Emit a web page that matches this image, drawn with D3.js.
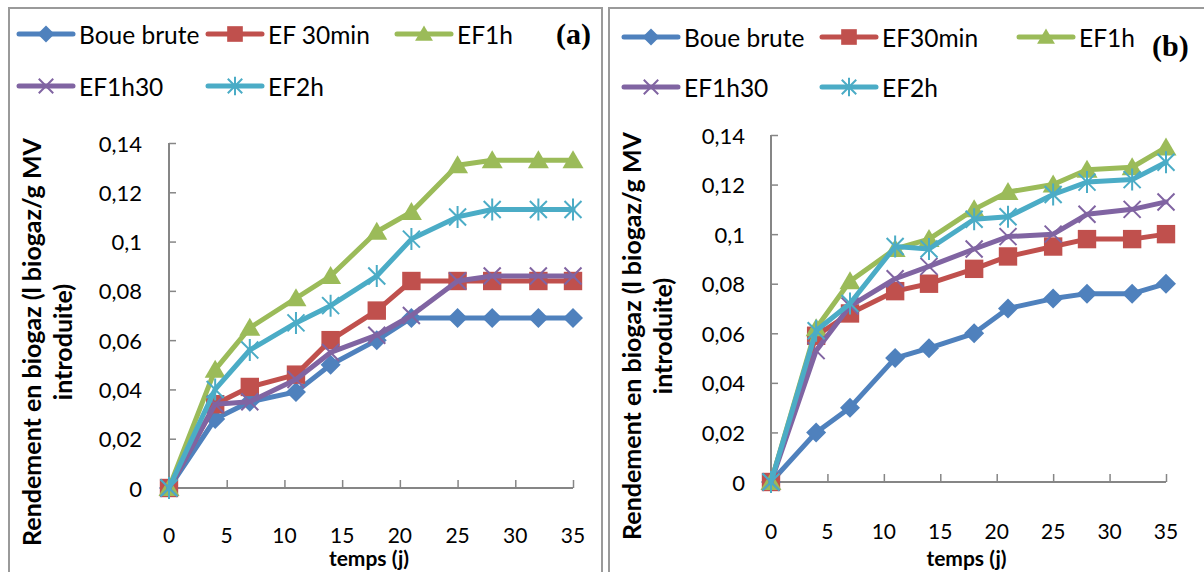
<!DOCTYPE html>
<html>
<head>
<meta charset="utf-8">
<script src="https://cdn.jsdelivr.net/npm/d3@7"></script>
<style>
  html, body { margin: 0; padding: 0; background: #fff; }
  svg { display: block; }
  text { font-family: Lato, "Open Sans", sans-serif; fill: #000; }
</style>
</head>
<body>
<svg id="chart" width="1204" height="572"></svg>
<script>
// Sampling days (j)
const days = [0, 4, 7, 11, 14, 18, 21, 25, 28, 32, 35];

// Panel (a) — biogas yield, l biogaz / g MV introduite
const aBoueBrute = [0, 0.028, 0.035, 0.039, 0.050, 0.060, 0.069, 0.069, 0.069, 0.069, 0.069];
const aEF30min   = [0, 0.034, 0.041, 0.046, 0.060, 0.072, 0.084, 0.084, 0.084, 0.084, 0.084];
const aEF1h      = [0, 0.048, 0.065, 0.077, 0.086, 0.104, 0.112, 0.131, 0.133, 0.133, 0.133];
const aEF1h30    = [0, 0.034, 0.035, 0.044, 0.055, 0.062, 0.070, 0.084, 0.086, 0.086, 0.086];
const aEF2h      = [0, 0.040, 0.056, 0.067, 0.074, 0.086, 0.101, 0.110, 0.113, 0.113, 0.113];

// Panel (b)
const bBoueBrute = [0, 0.020, 0.030, 0.050, 0.054, 0.060, 0.070, 0.074, 0.076, 0.076, 0.080];
const bEF30min   = [0, 0.059, 0.068, 0.077, 0.080, 0.086, 0.091, 0.095, 0.098, 0.098, 0.100];
const bEF1h      = [0, 0.062, 0.081, 0.094, 0.098, 0.110, 0.117, 0.120, 0.126, 0.127, 0.135];
const bEF1h30    = [0, 0.053, 0.071, 0.082, 0.087, 0.094, 0.099, 0.100, 0.108, 0.110, 0.113];
const bEF2h      = [0, 0.061, 0.072, 0.095, 0.094, 0.106, 0.107, 0.116, 0.121, 0.122, 0.129];

const namesA = ["Boue brute", "EF 30min", "EF1h", "EF1h30", "EF2h"];
const namesB = ["Boue brute", "EF30min", "EF1h", "EF1h30", "EF2h"];

const xTicks = [0, 5, 10, 15, 20, 25, 30, 35];
const yTicks = [0, 0.02, 0.04, 0.06, 0.08, 0.1, 0.12, 0.14];

const xTitle = "temps (j)";
const yTitleLines = ["Rendement en biogaz (l biogaz/g MV", "introduite)"];

// Series styling (Office 2007 palette)
const colors  = ["#4F81BD", "#C0504D", "#9BBB59", "#8064A2", "#4BACC6"];
const markers = ["diamond", "square", "triangle", "cross", "star"];

const frLocale = d3.formatLocale({ decimal: ",", thousands: " ", grouping: [3], currency: ["", " €"] });
const fmt = frLocale.format("~g");

const svg = d3.select("#chart");

function markerPath(type, s) {
  switch (type) {
    case "diamond":  return `M0,${-s}L${s},0L0,${s}L${-s},0Z`;
    case "square":   return `M${-s * 0.92},${-s * 0.92}H${s * 0.92}V${s * 0.92}H${-s * 0.92}Z`;
    case "triangle": return `M0,${-s * 1.0}L${s * 1.05},${s * 0.8}L${-s * 1.05},${s * 0.8}Z`;
    case "cross":    { const c = s * 0.85; return `M${-c},${-c}L${c},${c}M${-c},${c}L${c},${-c}`; }
    case "star":     { const c = s * 0.85; return `M${-c},${-c}L${c},${c}M${-c},${c}L${c},${-c}M0,${-s * 1.1}V${s * 1.1}`; }
  }
}
function isStroked(type) { return type === "cross" || type === "star"; }

function drawMarker(g, type, color, x, y, s) {
  const p = g.append("path")
    .attr("d", markerPath(type, s))
    .attr("transform", `translate(${x},${y})`);
  if (isStroked(type)) p.attr("fill", "none").attr("stroke", color).attr("stroke-width", 2);
  else p.attr("fill", color).attr("stroke", "none");
}

function drawPanel(cfg) {
  const g = svg.append("g");

  // frame
  g.append("rect")
    .attr("x", cfg.frame.x).attr("y", cfg.frame.y)
    .attr("width", cfg.frame.w).attr("height", cfg.frame.h)
    .attr("fill", "none").attr("stroke", "#9a9a9a").attr("stroke-width", 2);

  const x = d3.scaleLinear().domain([0, 35]).range([cfg.left, cfg.right]);
  const y = d3.scaleLinear().domain([0, 0.14]).range([cfg.bottom, cfg.top]);

  // axes: ticks point inward, labels placed separately
  const axisColor = "#868686";
  const xAxis = g.append("g").attr("transform", `translate(0,${cfg.bottom})`)
    .call(d3.axisTop(x).tickValues(xTicks).tickSize(8).tickFormat(""));
  const yAxis = g.append("g").attr("transform", `translate(${cfg.left},0)`)
    .call(d3.axisRight(y).tickValues(yTicks).tickSize(7).tickFormat(""));
  [xAxis, yAxis].forEach(a => {
    a.select(".domain").attr("stroke", axisColor).attr("stroke-width", 2);
    a.selectAll(".tick line").attr("stroke", axisColor).attr("stroke-width", 1.5);
  });
  xAxis.select(".domain").attr("d", `M${cfg.left},0H${cfg.right}`);
  yAxis.select(".domain").attr("d", `M0,${cfg.top}V${cfg.bottom}`);

  // tick labels
  g.append("g").selectAll("text").data(yTicks).join("text")
    .attr("x", cfg.yLabelX).attr("y", d => y(d))
    .attr("text-anchor", "end").attr("dominant-baseline", "central")
    .style("font-size", "22px")
    .text(d => fmt(d));
  g.append("g").selectAll("text").data(xTicks).join("text")
    .attr("x", d => x(d)).attr("y", cfg.bottom + cfg.xLabelDy)
    .attr("text-anchor", "middle").attr("dominant-baseline", "central")
    .style("font-size", "21px")
    .text(d => d);

  // axis titles
  g.append("text")
    .attr("x", (cfg.left + cfg.right) / 2 - 2).attr("y", cfg.xTitleY)
    .attr("text-anchor", "middle")
    .style("font-size", "21px").style("font-weight", "bold")
    .text(xTitle);
  const yt = g.append("text")
    .attr("transform", `translate(${cfg.yTitleX},${cfg.yTitleY}) rotate(-90)`)
    .attr("text-anchor", "middle")
    .style("font-size", "25px").style("font-weight", "bold");
  yTitleLines.forEach((line, i) => {
    yt.append("tspan").attr("x", 0).attr("y", i * 31).text(line);
  });

  // series: line then markers, in series order
  const line = d3.line().x(d => x(d[0])).y(d => y(d[1]));
  cfg.series.forEach((vals, i) => {
    const pts = days.map((d, k) => [d, vals[k]]);
    const sg = g.append("g");
    sg.append("path").datum(pts)
      .attr("d", line)
      .attr("fill", "none").attr("stroke", colors[i])
      .attr("stroke-width", 5).attr("stroke-linejoin", "round").attr("stroke-linecap", "round");
    pts.forEach(p => drawMarker(sg, markers[i], colors[i], x(p[0]), y(p[1]), 10));
  });

  // legend
  cfg.legend.forEach((pos, i) => {
    const lg = g.append("g").attr("transform", `translate(${pos[0]},${pos[1]})`);
    lg.append("line").attr("x1", 0).attr("x2", 54).attr("y1", 0).attr("y2", 0)
      .attr("stroke", colors[i]).attr("stroke-width", 5).attr("stroke-linecap", "round");
    drawMarker(lg, markers[i], colors[i], 27, 0, 8.5);
    lg.append("text").attr("x", 60).attr("y", 0)
      .attr("dominant-baseline", "central")
      .style("font-size", "24.5px")
      .text(cfg.names[i]);
  });

  // panel label
  g.append("text")
    .attr("x", cfg.tag[0]).attr("y", cfg.tag[1])
    .attr("dominant-baseline", "central")
    .style("font-family", "'Liberation Serif', 'Times New Roman', serif")
    .style("font-weight", "bold").style("font-size", "30px")
    .text(cfg.tagText);
}

drawPanel({
  frame: { x: 9, y: 8, w: 593, h: 620 },
  left: 169, right: 573, top: 143, bottom: 488,
  yLabelX: 142, xLabelDy: 46, xTitleY: 566,
  yTitleX: 41, yTitleY: 342,
  series: [aBoueBrute, aEF30min, aEF1h, aEF1h30, aEF2h],
  names: namesA,
  legend: [[19, 34], [208, 34], [397, 34], [19, 86], [208, 86]],
  tag: [556, 33], tagText: "(a)"
});

drawPanel({
  frame: { x: 609, y: 8, w: 620, h: 620 },
  left: 771, right: 1166, top: 135, bottom: 482,
  yLabelX: 745, xLabelDy: 48, xTitleY: 566,
  yTitleX: 641, yTitleY: 336,
  series: [bBoueBrute, bEF30min, bEF1h, bEF1h30, bEF2h],
  names: namesB,
  legend: [[624, 37], [822, 37], [1019, 37], [624, 87], [822, 87]],
  tag: [1152, 45], tagText: "(b)"
});
</script>
</body>
</html>
